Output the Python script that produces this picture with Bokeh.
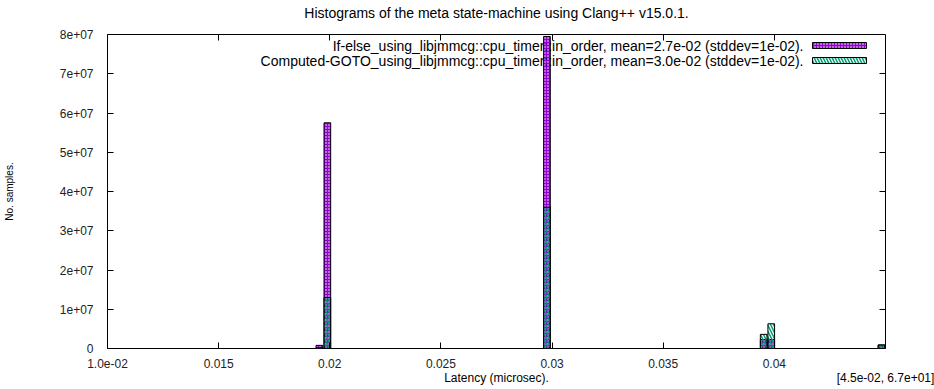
from bokeh.plotting import figure
from bokeh.models import (Range1d, FixedTicker, LinearAxis, Label, ColumnDataSource)
from bokeh.embed import file_html
from bokeh.resources import INLINE

# ---- data ----
title_text = "Histograms of the meta state-machine using Clang++ v15.0.1."
series_names = [
    "If-else_using_libjmmcg::cpu_timer::in_order, mean=2.7e-02 (stddev=1e-02).",
    "Computed-GOTO_using_libjmmcg::cpu_timer::in_order, mean=3.0e-02 (stddev=1e-02).",
]
bin_centres = [0.01953, 0.01989, 0.02977, 0.03952, 0.03986, 0.04482]
ifelse_counts = [0.8e6, 5.75e7, 7.95e7, 2.3e6, 2.3e6, 0.9e6]
goto_counts = [0.2e6, 1.3e7, 3.6e7, 3.6e6, 6.3e6, 0.9e6]
bar_width = 0.0003
x_ticks = [0.01, 0.015, 0.02, 0.025, 0.03, 0.035, 0.04, 0.045]
x_tick_labels = ["1.0e-02", "0.015", "0.02", "0.025", "0.03", "0.035", "0.04", ""]
x_axis_title = "Latency (microsec)."
overflow_label = "[4.5e-02, 6.7e+01]"
y_ticks = [0, 1e7, 2e7, 3e7, 4e7, 5e7, 6e7, 7e7, 8e7]
y_tick_labels = ["0", "1e+07", "2e+07", "3e+07", "4e+07", "5e+07", "6e+07", "7e+07", "8e+07"]
y_axis_title = "No. samples."
x_min, x_max = 0.01, 0.045
y_min, y_max = 0, 8e7

PURPLE = "#9400d3"
TEAL = "#009e73"
FONT = "Liberation Sans"

W, H = 934, 389
L, R, T, B = 107, 885, 34, 348

p = figure(width=W, height=H, output_backend="svg", toolbar_location=None,
           x_range=Range1d(x_min, x_max), y_range=Range1d(y_min, y_max),
           min_border_left=L, min_border_right=W - R, min_border_top=T,
           min_border_bottom=H - B)
p.grid.visible = False
p.outline_line_color = "black"
p.outline_line_width = 1
p.background_fill_color = "white"
p.border_fill_color = "white"

def px_x(px):
    return x_min + (px - L) / (R - L) * (x_max - x_min)

def px_y(py):
    return y_min + (B - py) / (B - T) * (y_max - y_min)

x_mid = (x_min + x_max) / 2

# axes
xa = p.xaxis[0]
xa.ticker = FixedTicker(ticks=x_ticks)
xa.major_label_overrides = {t: s for t, s in zip(x_ticks, x_tick_labels)}
ya = p.yaxis[0]
ya.ticker = FixedTicker(ticks=y_ticks)
ya.major_label_overrides = {t: s for t, s in zip(y_ticks, y_tick_labels)}
ya.axis_label = y_axis_title
for ax in (xa, ya):
    ax.major_tick_in = 6
    ax.major_tick_out = 0
    ax.minor_tick_line_color = None
    ax.axis_line_color = None
    ax.major_tick_line_color = "black"
    ax.major_label_text_font = FONT
    ax.major_label_text_font_size = "12px"
    ax.major_label_text_color = "#222222"
    ax.axis_label_text_font = FONT
    ax.axis_label_text_font_style = "normal"
    ax.axis_label_text_color = "#000000"
xa.major_label_standoff = 10
ya.major_label_standoff = 14
ya.axis_label_text_font_size = "10px"
ya.axis_label_standoff = 42

# second row below the x axis: axis title (centred) and the overflow-bin label
xb = LinearAxis(ticker=FixedTicker(ticks=[x_mid, x_max]),
                major_label_overrides={x_mid: x_axis_title, x_max: overflow_label},
                major_tick_in=0, major_tick_out=0, minor_tick_line_color=None,
                axis_line_color=None, major_label_standoff=0,
                major_label_text_font=FONT, major_label_text_font_size="12px",
                major_label_text_color="#000000")
p.add_layout(xb, "below")

# mirrored ticks on top and right
top = LinearAxis(ticker=FixedTicker(ticks=x_ticks[1:-1]), major_label_text_font_size="0px",
                 major_tick_in=6, major_tick_out=0, minor_tick_line_color=None,
                 axis_line_color=None, major_label_standoff=0)
right = LinearAxis(ticker=FixedTicker(ticks=y_ticks[1:-1]), major_label_text_font_size="0px",
                   major_tick_in=6, major_tick_out=0, minor_tick_line_color=None,
                   axis_line_color=None, major_label_standoff=0)
p.add_layout(top, "above")
p.add_layout(right, "right")

# chart title as a centred label row above the frame
title_axis = LinearAxis(ticker=FixedTicker(ticks=[x_mid]),
                        major_label_overrides={x_mid: title_text},
                        major_tick_in=0, major_tick_out=0, minor_tick_line_color=None,
                        axis_line_color=None, major_label_standoff=14,
                        major_label_text_font=FONT, major_label_text_font_size="14px",
                        major_label_text_color="#000000")
p.add_layout(title_axis, "above")

src = ColumnDataSource(dict(x=bin_centres, a=ifelse_counts, b=goto_counts))
p.vbar(x="x", top="a", bottom=0, width=bar_width, source=src,
       fill_color=PURPLE, line_color="black", line_width=1,
       hatch_pattern="dot", hatch_color="white", hatch_scale=3, hatch_weight=1)
p.vbar(x="x", top="b", bottom=0, width=bar_width, source=src,
       fill_alpha=0, line_color="black", line_width=1,
       hatch_pattern="left_diagonal_line", hatch_color=TEAL, hatch_scale=6, hatch_weight=1.5)

# legend (text, then sample, gnuplot style)
rows_py = [45, 60]
for i, name in enumerate(series_names):
    p.add_layout(Label(x=px_x(803), y=px_y(rows_py[i]), text=name, text_align="right",
                       text_baseline="middle", text_font=FONT, text_font_size="14px",
                       text_color="black"))
p.quad(left="x0", right="x1", bottom="y0", top="y1",
       source=ColumnDataSource(dict(x0=[px_x(812)], x1=[px_x(866)],
                                    y0=[px_y(rows_py[0] + 3)], y1=[px_y(rows_py[0] - 3)])),
       fill_color=PURPLE, line_color="black", line_width=1,
       hatch_pattern="dot", hatch_color="white", hatch_scale=3, hatch_weight=1)
p.quad(left="x0", right="x1", bottom="y0", top="y1",
       source=ColumnDataSource(dict(x0=[px_x(812)], x1=[px_x(866)],
                                    y0=[px_y(rows_py[1] + 3)], y1=[px_y(rows_py[1] - 3)])),
       fill_color="white", line_color="black", line_width=1,
       hatch_pattern="left_diagonal_line", hatch_color=TEAL, hatch_scale=6, hatch_weight=1.5)

open("out.html", "w").write(file_html(p, INLINE))
